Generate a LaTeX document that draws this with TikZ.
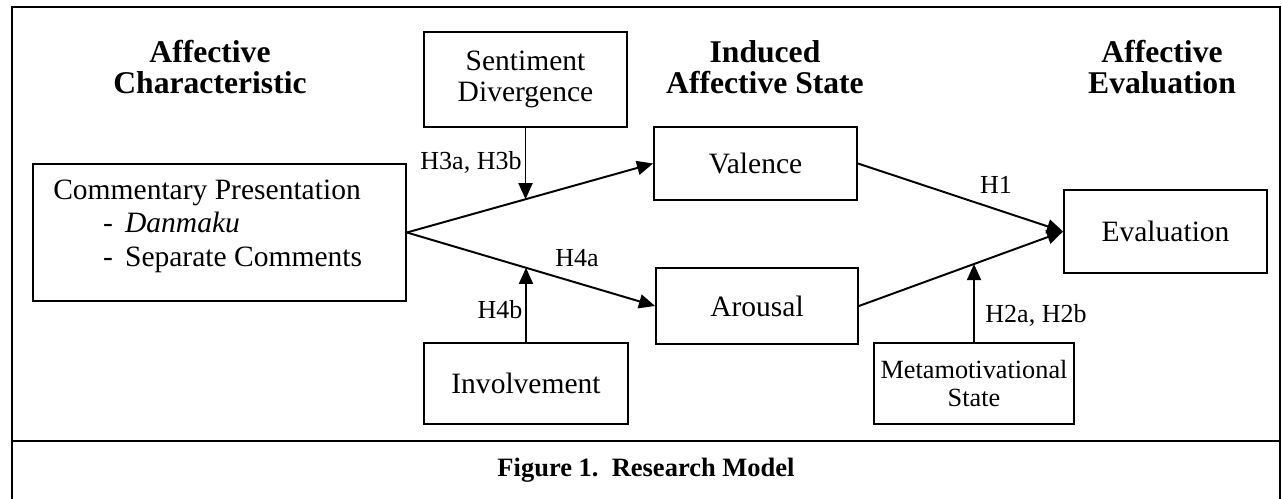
\documentclass[tikz,border=0pt]{standalone}
\usepackage{fontspec}
\setmainfont{Liberation Serif}
\usetikzlibrary{arrows.meta}

\begin{document}
\begin{tikzpicture}[
		box/.style={draw, line width=1.3pt, inner sep=0pt, align=center, font=\fontsize{21}{22}\selectfont},
		head/.style={align=center, font=\fontsize{22.5}{22}\selectfont\bfseries},
		hyp/.style={inner sep=0pt, font=\fontsize{18.5}{20}\selectfont},
		arr/.style={line width=1.4pt, -{Triangle[length=11.5pt, width=10pt]}}
	]
		\useasboundingbox (0,0) rectangle (32.05,12.475);
		
		\draw[line width=2.1pt] (0.3,-0.5) -- (0.3,12.3) -- (32.0,12.3) -- (32.0,-0.5);
		\draw[line width=2.1pt] (0.3,1.45) -- (32.0,1.45);
		
		\node[head] (hchar) at (5.25,10.8) {Affective\\Characteristic};
		\node[head] (hind) at (19.125,10.8) {Induced\\Affective State};
		\node[head] (heval) at (29.05,10.8) {Affective\\Evaluation};
		
		\node[box, minimum width=9.325cm, minimum height=3.425cm] (pres) at (5.4875,6.6625) {};
		\node[anchor=north west, inner sep=0pt, align=left, font=\fontsize{21}{24}\selectfont] (prestext) at (1.325,7.99)
			{Commentary Presentation\\
			\hspace*{35.5pt}\makebox[15.6pt][l]{-}\textit{Danmaku}\\
			\hspace*{35.5pt}\makebox[15.6pt][l]{-}Separate Comments};
		
		\node[box, minimum width=5.075cm, minimum height=2.375cm] (sent) at (13.1375,10.4875) {Sentiment\\Divergence};
		\node[box, minimum width=5.075cm, minimum height=1.825cm] (val) at (18.8875,8.3875) {Valence};
		\node[box, minimum width=5.05cm, minimum height=1.9cm] (aro) at (18.925,4.825) {Arousal};
		\node[box, minimum width=5.075cm, minimum height=2.075cm] (eval) at (29.1375,6.6875) {Evaluation};
		\node[box, minimum width=5.1cm, minimum height=2.025cm] (inv) at (13.15,2.8875) {Involvement};
		\node[box, minimum width=5.0cm, minimum height=2.025cm, font=\fontsize{18.7}{19.5}\selectfont] (meta) at (24.35,2.8875) {Metamotivational\\State};
		
		\draw[arr] (pres.east) -- (val.west) coordinate[pos=0.482] (j3);
		\draw[arr] (pres.east) -- (aro.west) coordinate[pos=0.48] (j4);
		\draw[arr] (val.east) -- (eval.west);
		\draw[arr] (aro.east) -- (eval.west) coordinate[pos=0.563] (j2);
		
		\draw[arr] (sent.south) -- (sent.south |- j3);
		\draw[arr] (inv.north) -- (inv.north |- j4);
		\draw[arr] (meta.north) -- (meta.north |- j2);
		
		\node[hyp] (h3) at (11.775,8.425) {H3a, H3b};
		\node[hyp] (h4a) at (14.425,6.025) {H4a};
		\node[hyp] (h4b) at (12.5,4.725) {H4b};
		\node[hyp] (h1) at (24.9,7.85) {H1};
		\node[hyp] (h2) at (25.9,4.6) {H2a, H2b};
		
		%\draw[help lines] (0,0) grid (32,12);
		
		\node[font=\fontsize{18.85}{20}\selectfont\bfseries] (cap) at (16.15,0.725) {Figure 1.\ \ Research Model};
		
	\end{tikzpicture}
\end{document}
